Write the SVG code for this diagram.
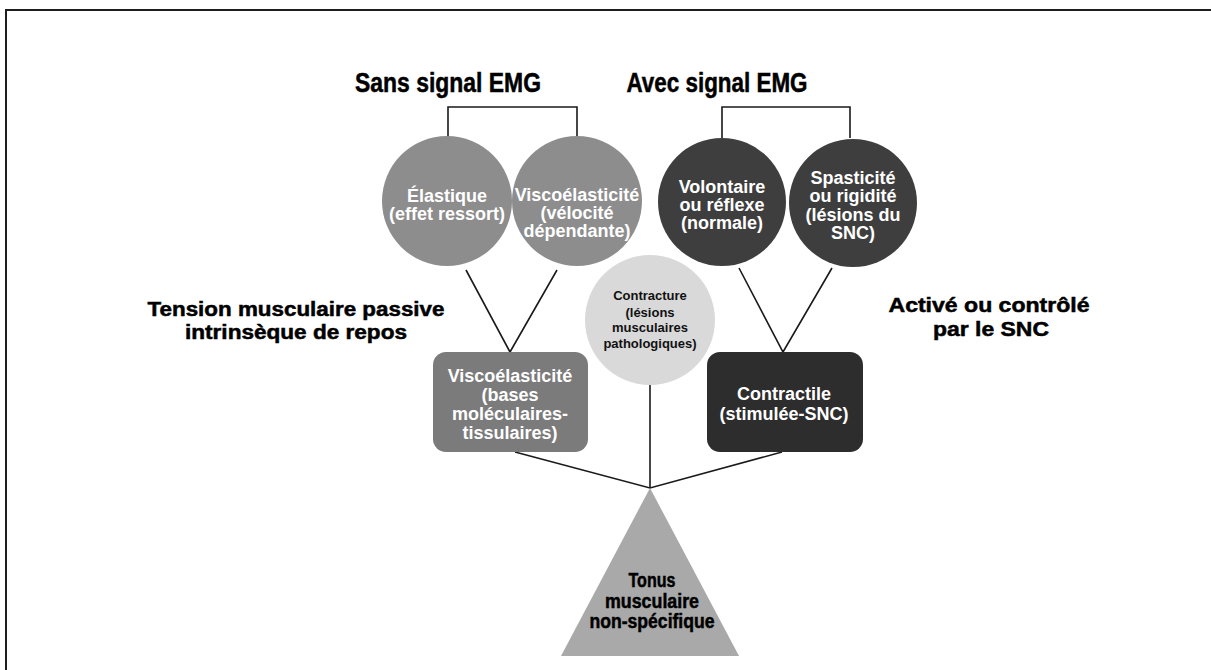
<svg xmlns="http://www.w3.org/2000/svg" width="1211" height="670" viewBox="0 0 1211 670">
  <style>
    .frame { fill: none; stroke: #1e1e1e; stroke-width: 2; }
    .link { fill: none; stroke: #1a1a1a; stroke-width: 1.6; }
    .head { font-family: "Liberation Sans", Arial, sans-serif; font-weight: 900; fill: #000; stroke: #000; stroke-width: 0.5; text-anchor: middle; }
    .wt { font-family: "Liberation Sans", Arial, sans-serif; font-weight: bold; fill: #fff; text-anchor: middle; font-size: 18px; }
    .bt { font-family: "Liberation Sans", Arial, sans-serif; font-weight: bold; fill: #111; text-anchor: middle; font-size: 13px; }
  </style>

  <rect x="0" y="0" width="1211" height="670" fill="#fff"/>
  <!-- page frame: top and left edges only -->
  <path class="frame" d="M6 670 V10 H1211"/>

  <!-- headings -->
  <g id="heading-sans">
    <text class="head" x="448" y="92" font-size="27" textLength="186" lengthAdjust="spacingAndGlyphs">Sans signal EMG</text>
  </g>
  <g id="heading-avec">
    <text class="head" x="717" y="92" font-size="27" textLength="181" lengthAdjust="spacingAndGlyphs">Avec signal EMG</text>
  </g>
  <g id="label-passive">
    <text class="head" x="296" y="316" font-size="20" textLength="297" lengthAdjust="spacingAndGlyphs">Tension musculaire passive</text>
    <text class="head" x="296" y="339" font-size="20" textLength="222" lengthAdjust="spacingAndGlyphs">intrinsèque de repos</text>
  </g>
  <g id="label-active">
    <text class="head" x="989" y="312" font-size="20" textLength="201" lengthAdjust="spacingAndGlyphs">Activé ou contrôlé</text>
    <text class="head" x="991" y="336" font-size="20" textLength="116" lengthAdjust="spacingAndGlyphs">par le SNC</text>
  </g>

  <!-- connectors -->
  <g id="connectors">
    <path class="link" d="M448 138 V107 H577 V138"/>
    <path class="link" d="M722 138 V107 H850 V138"/>
    <path class="link" d="M466 270 L510 352 L557 270"/>
    <path class="link" d="M739 268 L783 352 L832 268"/>
    <path class="link" d="M515 452 L650 488 L782 452"/>
    <path class="link" d="M650 385 V488"/>
  </g>

  <g id="node-elastique">
    <circle cx="447" cy="201" r="65" fill="#8d8d8d"/>
    <text class="wt" x="447" y="202">Élastique</text>
    <text class="wt" x="447" y="220">(effet ressort)</text>
  </g>
  <g id="node-viscoelasticite-velocite">
    <circle cx="577" cy="201" r="65" fill="#8d8d8d"/>
    <text class="wt" x="577" y="201">Viscoélasticité</text>
    <text class="wt" x="577" y="219">(vélocité</text>
    <text class="wt" x="577" y="237">dépendante)</text>
  </g>
  <g id="node-volontaire">
    <circle cx="722" cy="202" r="64" fill="#3e3e3e"/>
    <text class="wt" x="722" y="193">Volontaire</text>
    <text class="wt" x="722" y="211">ou réflexe</text>
    <text class="wt" x="722" y="229">(normale)</text>
  </g>
  <g id="node-spasticite">
    <circle cx="853" cy="203" r="64" fill="#3e3e3e"/>
    <text class="wt" x="853" y="184">Spasticité</text>
    <text class="wt" x="853" y="202">ou rigidité</text>
    <text class="wt" x="853" y="221">(lésions du</text>
    <text class="wt" x="853" y="239">SNC)</text>
  </g>
  <g id="node-contracture">
    <circle cx="650" cy="320" r="65" fill="#d9d9d9"/>
    <text class="bt" x="650" y="300">Contracture</text>
    <text class="bt" x="650" y="317">(lésions</text>
    <text class="bt" x="650" y="332">musculaires</text>
    <text class="bt" x="650" y="348">pathologiques)</text>
  </g>
  <g id="node-viscoelasticite-bases">
    <rect x="433" y="352" width="155" height="100" rx="13" fill="#7b7b7b"/>
    <text class="wt" x="510" y="382">Viscoélasticité</text>
    <text class="wt" x="510" y="401">(bases</text>
    <text class="wt" x="510" y="420">moléculaires-</text>
    <text class="wt" x="510" y="439">tissulaires)</text>
  </g>
  <g id="node-contractile">
    <rect x="707" y="352" width="156" height="100" rx="13" fill="#2d2d2d"/>
    <text class="wt" x="784" y="400">Contractile</text>
    <text class="wt" x="784" y="420">(stimulée-SNC)</text>
  </g>
  <g id="node-tonus">
    <path d="M650 488 L739 656 L561 656 Z" fill="#a9a9a9"/>
    <text class="head" x="652" y="587" font-size="20" textLength="47" lengthAdjust="spacingAndGlyphs">Tonus</text>
    <text class="head" x="652" y="608" font-size="20" textLength="94" lengthAdjust="spacingAndGlyphs">musculaire</text>
    <text class="head" x="652" y="628" font-size="20" textLength="125" lengthAdjust="spacingAndGlyphs">non-spécifique</text>
  </g>
</svg>
